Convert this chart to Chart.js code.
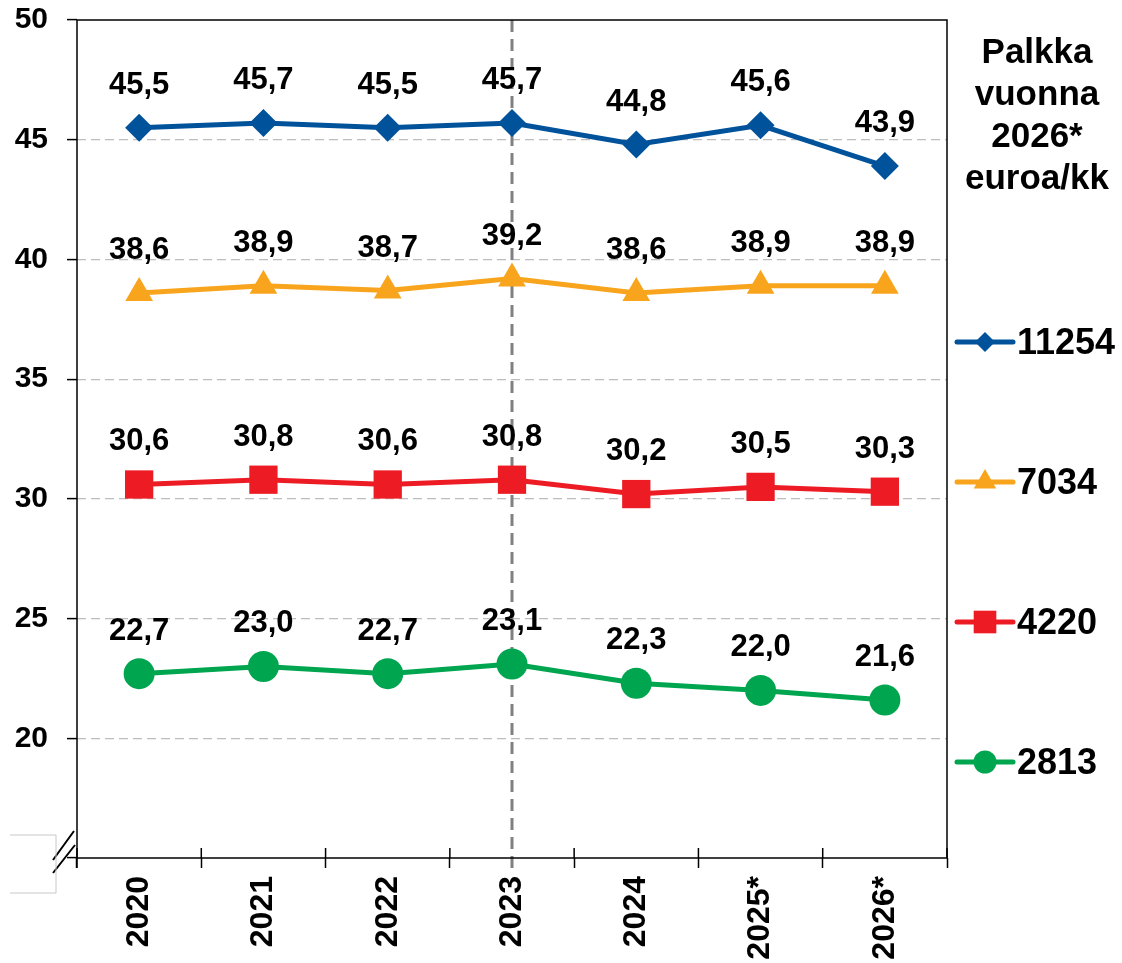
<!DOCTYPE html>
<html>
<head>
<meta charset="utf-8">
<title>Palkka vuonna 2026*</title>
<script src="https://cdn.jsdelivr.net/npm/chart.js@4.4.1/dist/chart.umd.min.js"></script>
<style>
	body{margin:0;background:#fff}
	#wrap{width:1122px;height:963px}
</style>
</head>
<body>
<div id="wrap"><canvas id="lineChart1" width="1122" height="963"></canvas></div>
<script>
var years=['2020','2021','2022','2023','2024','2025*','2026*']
var yTicks=[15,20,25,30,35,40,45,50]
var legendTitle=['Palkka','vuonna','2026*','euroa/kk']

var s11254=[45.5,45.7,45.5,45.7,44.8,45.6,43.9]
var s7034=[38.6,38.9,38.7,39.2,38.6,38.9,38.9]
var s4220=[30.6,30.8,30.6,30.8,30.2,30.5,30.3]
var s2813=[22.7,23.0,22.7,23.1,22.3,22.0,21.6]

var markYear='2023'
var fontFam="'Liberation Sans', Arial, Helvetica, sans-serif"
Chart.defaults.font.family=fontFam
Chart.defaults.color='#000'

const makeSet = function(label,data,color,style,radius,legendRadius){
	return {
		"label":label,
		"data":data,
		"borderColor":color,
		"backgroundColor":color,
		"borderWidth":5,
		"fill":false,
		"tension":0,
		"pointStyle":style,
		"pointRadius":radius,
		"pointHoverRadius":radius,
		"pointBorderWidth":0,
		"legendRadius":legendRadius
	}
}

const fmt = function(v){
	return v.toFixed(1).replace('.',',')
}

// values above each marker
const valueLabels = {
	id:'valueLabels',
	afterDatasetsDraw(chart){
		var ctx=chart.ctx
		ctx.save()
		ctx.font='bold 31px '+fontFam
		ctx.fillStyle='#000'
		ctx.textAlign='center'
		ctx.textBaseline='alphabetic'
		chart.data.datasets.forEach(function(ds,i){
			chart.getDatasetMeta(i).data.forEach(function(p,j){
				ctx.fillText(fmt(ds.data[j]),p.x,p.y-34)
			})
		})
		ctx.restore()
	}
}

// dashed line at 2023, box, axis break, x ticks crossing the axis
const decor = {
	id:'decor',
	beforeDatasetsDraw(chart){
		var ctx=chart.ctx
		var a=chart.chartArea
		var x=chart.scales.x.getPixelForValue(years.indexOf(markYear))
		ctx.save()
		ctx.strokeStyle='#808080'
		ctx.lineWidth=3
		ctx.setLineDash([12,7])
		ctx.beginPath()
		ctx.moveTo(x,a.top)
		ctx.lineTo(x,a.bottom+10)
		ctx.stroke()
		ctx.restore()
	},
	afterDraw(chart){
		var ctx=chart.ctx
		var a=chart.chartArea
		ctx.save()
		ctx.strokeStyle='#000'
		ctx.lineWidth=1.5
		ctx.strokeRect(a.left,a.top,a.right-a.left,a.bottom-a.top)
		var w=(a.right-a.left)/years.length
		ctx.beginPath()
		for (var i=0;i<=years.length;i++){
			ctx.moveTo(a.left+i*w,a.bottom-10)
			ctx.lineTo(a.left+i*w,a.bottom)
		}
		ctx.moveTo(a.left,a.bottom)
		ctx.lineTo(a.left,a.bottom+10)
		ctx.stroke()
		// axis break
		ctx.fillStyle='#fff'
		ctx.fillRect(a.left-22,a.bottom-22,20,16)
		ctx.lineWidth=2
		ctx.beginPath()
		ctx.moveTo(a.left-24,a.bottom+2)
		ctx.lineTo(a.left-3,a.bottom-27)
		ctx.moveTo(a.left-24,a.bottom+15)
		ctx.lineTo(a.left-2,a.bottom-13)
		ctx.stroke()
		ctx.strokeStyle='#c8c8c8'
		ctx.lineWidth=1
		ctx.beginPath()
		ctx.moveTo(a.left-67,a.bottom-23)
		ctx.lineTo(a.left-21,a.bottom-23)
		ctx.lineTo(a.left-21,a.bottom+35)
		ctx.lineTo(a.left-67,a.bottom+35)
		ctx.stroke()
		ctx.restore()
	}
}

// legend on the right
const sideLegend = {
	id:'sideLegend',
	afterDraw(chart){
		var ctx=chart.ctx
		var a=chart.chartArea
		var cx=a.right+90
		ctx.save()
		ctx.fillStyle='#000'
		ctx.font='bold 35px '+fontFam
		ctx.textAlign='center'
		ctx.textBaseline='alphabetic'
		legendTitle.forEach(function(t,i){
			ctx.fillText(t,cx,a.top+43+i*42)
		})
		ctx.font='bold 36px '+fontFam
		ctx.textAlign='left'
		ctx.textBaseline='middle'
		chart.data.datasets.forEach(function(ds,i){
			var y=a.top+322+i*140
			var x0=a.right+10
			ctx.strokeStyle=ds.borderColor
			ctx.lineWidth=5
			ctx.lineCap='round'
			ctx.beginPath()
			ctx.moveTo(x0,y)
			ctx.lineTo(x0+56,y)
			ctx.stroke()
			ctx.fillStyle=ds.backgroundColor
			Chart.helpers.drawPoint(ctx,{pointStyle:ds.pointStyle,radius:ds.legendRadius,borderWidth:0,rotation:0},x0+28,y)
			ctx.fillStyle='#000'
			ctx.fillText(ds.label,x0+60,y+2)
		})
		ctx.restore()
	}
}

new Chart(document.getElementById('lineChart1'),{
	"type":"line",
	"data":{
		"labels":years,
		"datasets":[
			makeSet('11254',s11254,'#00529B','rectRot',14,10),
			makeSet('7034',s7034,'#F8A51D','triangle',16,13),
			makeSet('4220',s4220,'#ED1C24','rect',20,16),
			makeSet('2813',s2813,'#00A54F','circle',15.5,11.5)
		]},
	"options":{
		"responsive":false,
		"animation":false,
		"devicePixelRatio":1,
		"layout":{"padding":{"top":20,"right":175,"bottom":0,"left":0}},
		"plugins":{"legend":{"display":false},"tooltip":{"enabled":false}},
		"scales":{
			"x":{
				"offset":true,
				"border":{"display":false},
				"grid":{"drawOnChartArea":false,"offset":true,"tickLength":10,"tickColor":"#000","tickWidth":1.5},
				"ticks":{"minRotation":90,"maxRotation":90,"padding":8,"font":{"size":32,"weight":"bold"},"color":"#000"},
				afterFit(scale){ scale.height=105; scale.paddingLeft=0; scale.paddingRight=0 }
			},
			"y":{
				"min":yTicks[0],
				"max":yTicks[yTicks.length-1],
				"border":{"display":false,"dash":[9,5]},
				"afterBuildTicks":function(scale){ scale.ticks=yTicks.map(v => ({value:v})) },
				"grid":{
					"color":function(c){ return (c.tick && (c.tick.value==yTicks[0] || c.tick.value==yTicks[yTicks.length-1])) ? 'rgba(0,0,0,0)' : '#bdbdbd' },
					"tickColor":"#000","tickLength":10,"tickWidth":1.5,"lineWidth":1.2
				},
				"ticks":{
					"padding":19,
					"font":{"size":30,"weight":"bold"},"color":"#000",
					"callback":function(v){ return v==yTicks[0] ? '' : v }
				},
				afterFit(scale){ scale.width=77; scale.paddingTop=0; scale.paddingBottom=0 }
			}
		}
	},
	"plugins":[decor,valueLabels,sideLegend]
})
</script>
</body>
</html>
